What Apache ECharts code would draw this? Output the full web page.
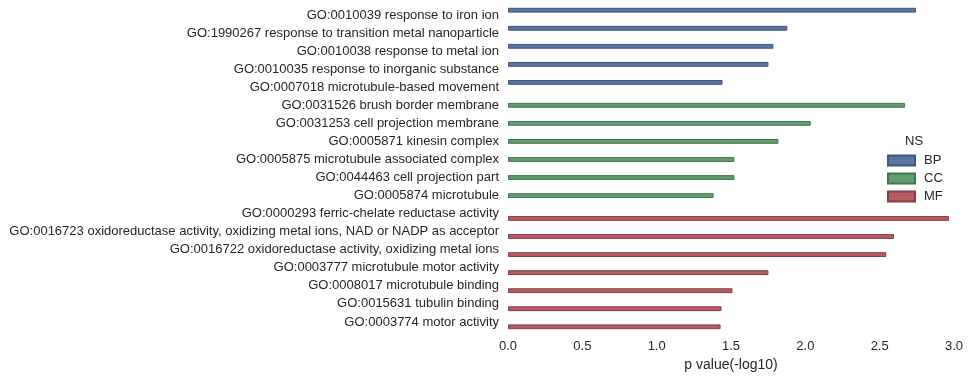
<!DOCTYPE html>
<html>
<head>
<meta charset="utf-8">
<script src="https://cdn.jsdelivr.net/npm/echarts@6/dist/echarts.min.js"></script>
<style>html,body{margin:0;padding:0;background:#fff;}#c{width:970px;height:379px;}</style>
</head>
<body>
<div id="c"></div>
<script>
const categories = [
  "GO:0010039 response to iron ion",
  "GO:1990267 response to transition metal nanoparticle",
  "GO:0010038 response to metal ion",
  "GO:0010035 response to inorganic substance",
  "GO:0007018 microtubule-based movement",
  "GO:0031526 brush border membrane",
  "GO:0031253 cell projection membrane",
  "GO:0005871 kinesin complex",
  "GO:0005875 microtubule associated complex",
  "GO:0044463 cell projection part",
  "GO:0005874 microtubule",
  "GO:0000293 ferric-chelate reductase activity",
  "GO:0016723 oxidoreductase activity, oxidizing metal ions, NAD or NADP as acceptor",
  "GO:0016722 oxidoreductase activity, oxidizing metal ions",
  "GO:0003777 microtubule motor activity",
  "GO:0008017 microtubule binding",
  "GO:0015631 tubulin binding",
  "GO:0003774 motor activity"
];
const bpValues = [2.745, 1.879, 1.785, 1.752, 1.443, null, null, null, null, null, null, null, null, null, null, null, null, null];
const ccValues = [null, null, null, null, null, 2.671, 2.036, 1.819, 1.523, 1.523, 1.383, null, null, null, null, null, null, null];
const mfValues = [null, null, null, null, null, null, null, null, null, null, null, 2.966, 2.597, 2.544, 1.752, 1.510, 1.436, 1.430];
const seriesNames = ["BP", "CC", "MF"];
const xTicks = [0, 0.5, 1.0, 1.5, 2.0, 2.5, 3.0];

const colors = ["#5875a4", "#5f9e6e", "#b55d60"];
const borders = ["#3f5478", "#45734f", "#843f42"];
const font = "Liberation Sans, Arial, sans-serif";

const chart = echarts.init(document.getElementById('c'));
const mk = (name, data, i) => ({
  name, type: 'bar', data,
  barGap: '0%', barCategoryGap: '20%',
  itemStyle: { color: colors[i], borderColor: borders[i], borderWidth: 1 },
  emphasis: { disabled: true }
});
chart.setOption({
  animation: false,
  backgroundColor: '#ffffff',
  title: {
    text: 'NS', left: 905, top: 135, padding: 0,
    textStyle: { fontFamily: font, fontSize: 13, fontWeight: 'normal', color: '#262626' }
  },
  legend: {
    data: seriesNames, orient: 'vertical', left: 887, top: 154, padding: 0,
    itemWidth: 27, itemHeight: 10, itemGap: 5,
    icon: 'rect',
    textStyle: { fontFamily: font, fontSize: 13, color: '#262626', padding: [0, 0, 0, 4] }
  },
  grid: { left: 508, right: 16, top: 6, bottom: 48, containLabel: false },
  xAxis: {
    type: 'value', min: xTicks[0], max: xTicks[xTicks.length - 1], interval: 0.5,
    name: 'p value(-log10)', nameLocation: 'middle', nameGap: 27,
    nameTextStyle: { fontFamily: font, fontSize: 14, color: '#262626' },
    axisLine: { show: false }, axisTick: { show: false }, splitLine: { show: false },
    axisLabel: { fontFamily: font, fontSize: 13, color: '#262626', margin: 9,
      formatter: v => v.toFixed(1) }
  },
  yAxis: {
    type: 'category', data: categories, inverse: true,
    axisLine: { show: false }, axisTick: { show: false }, splitLine: { show: false },
    axisLabel: { fontFamily: font, fontSize: 13, color: '#262626', margin: 9, interval: 0 }
  },
  series: [mk(seriesNames[0], bpValues, 0), mk(seriesNames[1], ccValues, 1), mk(seriesNames[2], mfValues, 2)]
});
</script>
</body>
</html>
